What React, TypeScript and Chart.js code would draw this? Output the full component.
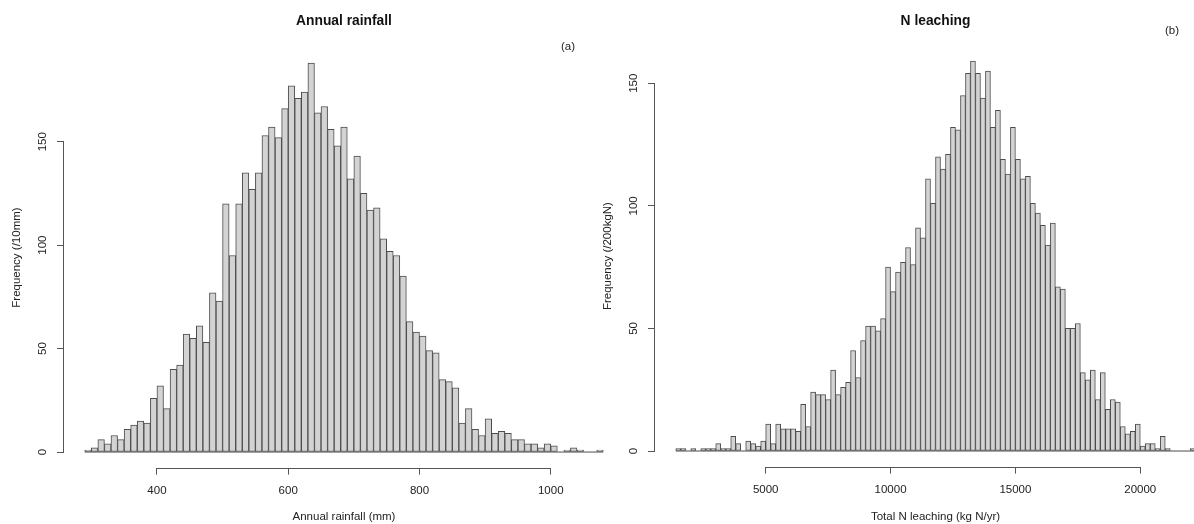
import React, { useEffect, useRef } from 'react';
import { Chart, registerables } from 'chart.js';

Chart.register(...registerables);

const FONT = 'Arial, "Liberation Sans", sans-serif';
const TEXT_COLOR = '#222';
const AXIS_COLOR = '#555';
const BAR_FILL = '#d3d3d3';
const BAR_EDGE = '#4d4d4d';

// Annual rainfall: counts per 10 mm bin, first bin 290-300 mm
const rainfallBinStart = 290;
const rainfallBinWidth = 10;
const rainfallCounts = [
  1, 2, 6, 4, 8, 6, 11, 13, 15, 14,
  26, 32, 21, 40, 42, 57, 55, 61, 53, 77,
  73, 120, 95, 120, 135, 127, 135, 153, 157, 152,
  166, 177, 171, 174, 188, 164, 167, 156, 148, 157,
  132, 143, 125, 117, 118, 103, 97, 95, 85, 63,
  58, 56, 49, 48, 35, 34, 31, 14, 21, 11,
  8, 16, 9, 10, 9, 6, 6, 4, 4, 2,
  4, 3, 0, 1, 2, 1, 0, 0, 1,
];
const rainfallTicks = [400, 600, 800, 1000];

// Total N leaching: counts per 200 kg N bin, first bin 1400-1600
const leachingBinStart = 1400;
const leachingBinWidth = 200;
const leachingCounts = [
  1, 1, 0, 1, 0, 1, 1, 1, 3, 1,
  1, 6, 3, 0, 4, 3, 2, 4, 11, 3,
  11, 9, 9, 9, 8, 19, 10, 24, 23, 23,
  21, 33, 23, 26, 28, 41, 30, 45, 51, 51,
  49, 54, 75, 65, 73, 77, 83, 76, 91, 87,
  111, 101, 120, 115, 121, 132, 131, 145, 154, 159,
  154, 144, 155, 132, 139, 119, 113, 132, 119, 111,
  112, 101, 97, 92, 84, 93, 67, 66, 50, 50,
  52, 32, 29, 33, 21, 32, 17, 21, 20, 10,
  7, 8, 11, 2, 3, 3, 1, 6, 1, 0,
  0, 0, 0, 1,
];
const leachingTicks = [5000, 10000, 15000, 20000];

const frequencyTicks = [0, 50, 100, 150];

const CANVAS_H = 524;
const LABEL_SIZE = 11.5;
const TITLE_SIZE = 13.8;

interface Panel {
  title: string;
  tag: string;
  xTitle: string;
  yTitle: string;
  binStart: number;
  binWidth: number;
  counts: number[];
  xTicks: number[];
  yTicks: number[];
  left: number;
  width: number;
  area: { left: number; right: number; top: number; bottom: number };
  tagPos: { x: number; y: number };
  yTitleX: number;
}

// Axis lines that run only from the first to the last tick
const axisLinePlugin = {
  id: 'axisLines',
  afterDraw(chart: any, _args: any, opts: any) {
    const { ctx, chartArea } = chart;
    const xs = chart.scales.x;
    const ys = chart.scales.y;
    const xp = xs.ticks.map((t: any) => xs.getPixelForValue(t.value));
    const yp = ys.ticks.map((t: any) => ys.getPixelForValue(t.value));
    ctx.save();
    ctx.strokeStyle = opts.color;
    ctx.lineWidth = opts.width;
    ctx.beginPath();
    const by = Math.round(chartArea.bottom) + 0.5;
    ctx.moveTo(Math.min(...xp), by);
    ctx.lineTo(Math.max(...xp), by);
    const lx = Math.round(chartArea.left) - 0.5;
    ctx.moveTo(lx, Math.max(...yp));
    ctx.lineTo(lx, Math.min(...yp));
    ctx.stroke();
    ctx.restore();
  },
};

// Panel letter in the top right corner
const panelTagPlugin = {
  id: 'panelTag',
  afterDraw(chart: any, _args: any, opts: any) {
    const { ctx } = chart;
    ctx.save();
    ctx.font = `${opts.size}px ${FONT}`;
    ctx.fillStyle = opts.color;
    ctx.textAlign = 'center';
    ctx.textBaseline = 'middle';
    ctx.fillText(opts.text, opts.x, opts.y);
    ctx.restore();
  },
};

function buildConfig(p: Panel): any {
  const n = p.counts.length;
  const end = p.binStart + n * p.binWidth;
  const span = end - p.binStart;
  const peak = Math.max(...p.counts);
  const bars = p.counts.map((c, i) => ({ x: p.binStart + (i + 0.5) * p.binWidth, y: c }));
  const titleLine = TITLE_SIZE * 1.2;
  const titleTop = 21 - titleLine / 2;
  const labelFont = { family: FONT, size: LABEL_SIZE, lineHeight: 1.2 };
  const labelHalf = (LABEL_SIZE * 1.2) / 2;

  return {
    type: 'bar',
    data: {
      datasets: [
        {
          type: 'bar',
          data: bars,
          backgroundColor: BAR_FILL,
          borderColor: BAR_EDGE,
          borderWidth: 1,
          borderSkipped: false,
          barPercentage: 1,
          categoryPercentage: 1,
        },
        {
          type: 'line',
          data: [
            { x: p.binStart, y: 0 },
            { x: end, y: 0 },
          ],
          borderColor: BAR_EDGE,
          borderWidth: 1,
          pointRadius: 0,
          fill: false,
        },
      ],
    },
    options: {
      responsive: false,
      animation: false,
      events: [],
      layout: { padding: { left: 0, right: p.width - p.area.right, top: 0, bottom: 0 } },
      plugins: {
        legend: { display: false },
        tooltip: { enabled: false },
        title: {
          display: true,
          text: p.title,
          fullSize: false,
          color: '#111',
          font: { family: FONT, size: TITLE_SIZE, weight: 'bold', lineHeight: 1.2 },
          padding: { top: titleTop, bottom: p.area.top - titleTop - titleLine },
        },
        axisLines: { color: AXIS_COLOR, width: 1 },
        panelTag: { text: p.tag, x: p.tagPos.x, y: p.tagPos.y, size: LABEL_SIZE, color: TEXT_COLOR },
      },
      scales: {
        x: {
          type: 'linear',
          min: p.binStart - 0.04 * span,
          max: end + 0.04 * span,
          offset: false,
          afterBuildTicks: (s: any) => {
            s.ticks = p.xTicks.map((v) => ({ value: v }));
          },
          afterFit: (s: any) => {
            s.height = CANVAS_H - p.area.bottom;
          },
          grid: { offset: false, drawOnChartArea: false, drawTicks: true, tickLength: 7, color: AXIS_COLOR, lineWidth: 1 },
          border: { display: false },
          ticks: {
            autoSkip: false,
            minRotation: 0,
            maxRotation: 0,
            padding: 9.3,
            color: TEXT_COLOR,
            font: labelFont,
            callback: (v: any) => String(v),
          },
          title: {
            display: true,
            text: p.xTitle,
            color: TEXT_COLOR,
            font: labelFont,
            padding: { top: 0, bottom: 7.3 - labelHalf },
          },
        },
        y: {
          type: 'linear',
          min: -0.04 * peak,
          max: 1.04 * peak,
          afterBuildTicks: (s: any) => {
            s.ticks = p.yTicks.map((v) => ({ value: v }));
          },
          afterFit: (s: any) => {
            s.width = p.area.left;
          },
          grid: { drawOnChartArea: false, drawTicks: true, tickLength: 7, color: AXIS_COLOR, lineWidth: 1 },
          border: { display: false },
          ticks: {
            autoSkip: false,
            minRotation: 90,
            maxRotation: 90,
            crossAlign: 'center',
            padding: 4.4,
            color: TEXT_COLOR,
            font: labelFont,
            callback: (v: any) => String(v),
          },
          title: {
            display: true,
            text: p.yTitle,
            color: TEXT_COLOR,
            font: labelFont,
            padding: { top: p.yTitleX - labelHalf, bottom: 0 },
          },
        },
      },
    },
    plugins: [axisLinePlugin, panelTagPlugin],
  };
}

const panels: Panel[] = [
  {
    title: 'Annual rainfall',
    tag: '(a)',
    xTitle: 'Annual rainfall (mm)',
    yTitle: 'Frequency (/10mm)',
    binStart: rainfallBinStart,
    binWidth: rainfallBinWidth,
    counts: rainfallCounts,
    xTicks: rainfallTicks,
    yTicks: frequencyTicks,
    left: 0,
    width: 640,
    area: { left: 64, right: 624, top: 47.5, bottom: 467.6 },
    tagPos: { x: 568, y: 47 },
    yTitleX: 17,
  },
  {
    title: 'N leaching',
    tag: '(b)',
    xTitle: 'Total N leaching (kg N/yr)',
    yTitle: 'Frequency (/200kgN)',
    binStart: leachingBinStart,
    binWidth: leachingBinWidth,
    counts: leachingCounts,
    xTicks: leachingTicks,
    yTicks: frequencyTicks,
    left: 590,
    width: 640,
    area: { left: 65, right: 626, top: 45.6, bottom: 466.6 },
    tagPos: { x: 582, y: 31 },
    yTitleX: 18,
  },
];

function HistogramPanel({ panel }: { panel: Panel }) {
  const ref = useRef<HTMLCanvasElement | null>(null);
  useEffect(() => {
    if (!ref.current) return;
    const chart = new Chart(ref.current, buildConfig(panel));
    return () => chart.destroy();
  }, [panel]);
  return (
    <canvas
      ref={ref}
      width={panel.width}
      height={CANVAS_H}
      style={{ position: 'absolute', left: panel.left, top: 0, width: panel.width, height: CANVAS_H }}
    />
  );
}

export default function App() {
  return (
    <div
      style={{
        position: 'absolute',
        left: 0,
        top: 0,
        width: 1194,
        height: CANVAS_H,
        overflow: 'hidden',
        background: '#fff',
      }}
    >
      {panels.map((p) => (
        <HistogramPanel key={p.tag} panel={p} />
      ))}
    </div>
  );
}
